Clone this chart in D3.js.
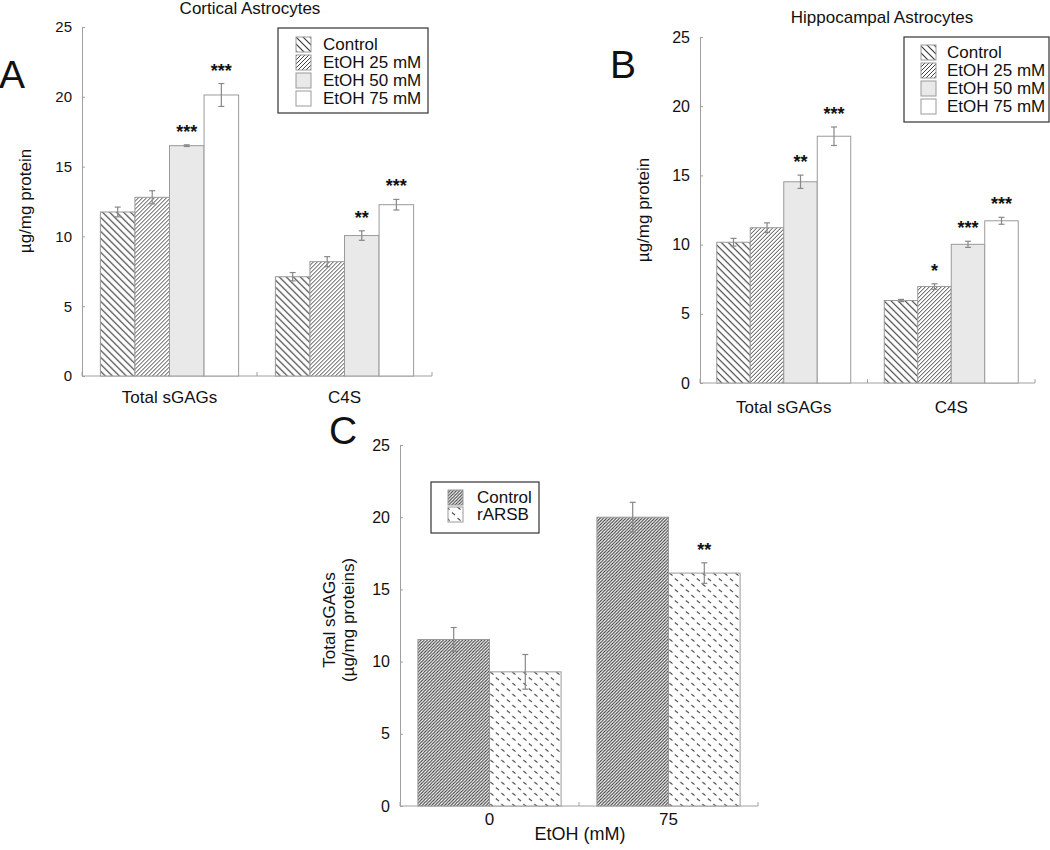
<!DOCTYPE html>
<html><head><meta charset="utf-8">
<script src="https://cdn.jsdelivr.net/npm/d3@7"></script>
<style>
body{margin:0;background:#fff;}
svg{font-family:"Liberation Sans",Arial,sans-serif;}
</style></head>
<body>
<svg id="c" width="1050" height="850"></svg>
<script>
// ---------- DATA ----------
const groupsAB = ["Total sGAGs", "C4S"];
const seriesAB = ["Control", "EtOH 25 mM", "EtOH 50 mM", "EtOH 75 mM"];
const yTicks = [0, 5, 10, 15, 20, 25];

// Panel A: Cortical Astrocytes
const cortMeans = [[11.75, 12.8, 16.5, 20.13], [7.11, 8.19, 10.06, 12.27]];
const cortErrs  = [[0.35, 0.47, 0.06, 0.82], [0.3, 0.36, 0.34, 0.38]];
const cortStars = [["", "", "***", "***"], ["", "", "**", "***"]];

// Panel B: Hippocampal Astrocytes
const hipMeans = [[10.17, 11.22, 14.54, 17.83], [5.96, 6.97, 10.02, 11.72]];
const hipErrs  = [[0.28, 0.35, 0.48, 0.67], [0.08, 0.2, 0.22, 0.25]];
const hipStars = [["", "", "**", "***"], ["", "*", "***", "***"]];

// Panel C
const groupsC = ["0", "75"];
const seriesC = ["Control", "rARSB"];
const cMeans = [[11.53, 9.29], [20.0, 16.13]];
const cErrs  = [[0.83, 1.2], [1.03, 0.71]];
const cStars = [["", ""], ["", "**"]];

// ---------- PATTERNS ----------
const svg = d3.select("#c");
const defs = svg.append("defs");
function hatch(id, size, dir, color, sw) {
  const p = defs.append("pattern").attr("id", id).attr("patternUnits", "userSpaceOnUse")
    .attr("width", size).attr("height", size);
  p.append("rect").attr("width", size).attr("height", size).attr("fill", "#fff");
  const lines = dir > 0
    ? [[0, size, size, 0], [-size/2, size/2, size/2, -size/2], [size/2, size*1.5, size*1.5, size/2]]
    : [[0, 0, size, size], [-size/2, size/2, size/2, size*1.5], [size/2, -size/2, size*1.5, size/2]];
  lines.forEach(l => p.append("line").attr("x1", l[0]).attr("y1", l[1]).attr("x2", l[2]).attr("y2", l[3])
    .attr("stroke", color).attr("stroke-width", sw));
}
hatch("pCtrl", 7, -1, "#333", 1.1);
hatch("p25", 4, 1, "#444", 1.0);
hatch("pC", 3.2, 1, "#3a3a3a", 1.0);
(function(){
  const w = 11, h = 11;
  const p = defs.append("pattern").attr("id", "pArsb").attr("patternUnits", "userSpaceOnUse")
    .attr("width", w).attr("height", h);
  p.append("rect").attr("width", w).attr("height", h).attr("fill", "#fff");
  [[1,6.5],[6.5,1]].forEach(([x,y]) => p.append("path")
      .attr("d", `M${x},${y} l1.3,1.3 l0.4,0 l1.3,1.3`)
      .attr("stroke", "#444").attr("stroke-width", 1.1).attr("fill", "none"));
})();
const fillsAB = ["url(#pCtrl)", "url(#p25)", "#e9e9e9", "#ffffff"];
const fillsC = ["url(#pC)", "url(#pArsb)"];

const axisCol = "#a0a0a0";
const barStroke = "#9a9a9a";
const errCol = "#888";

function panel(cfg) {
  const g = svg.append("g");
  const y = d3.scaleLinear().domain([0, 25]).range([cfg.y0, cfg.y1]);
  const x0 = d3.scaleBand().domain(cfg.groups).range([cfg.xL, cfg.xR])
    .paddingInner(cfg.pad).paddingOuter(cfg.pad / 2);
  const x1 = d3.scaleBand().domain(cfg.series).range([0, x0.bandwidth()]);

  // axes
  const yAx = g.append("g").attr("transform", `translate(${cfg.xL},0)`)
    .call(d3.axisLeft(y).tickValues(yTicks).tickSize(-3).tickPadding(10));
  yAx.select(".domain").attr("stroke", axisCol);
  yAx.selectAll(".tick line").attr("stroke", axisCol);
  yAx.selectAll("text").attr("font-size", cfg.tickFs).attr("fill", "#111");

  const step = x0.step();
  const xt = [cfg.xL, ...cfg.groups.slice(1).map(d => x0(d) - step * cfg.pad / 2), cfg.xR];
  g.append("line").attr("x1", cfg.xL).attr("x2", cfg.xR).attr("y1", cfg.y0).attr("y2", cfg.y0)
    .attr("stroke", axisCol);
  g.selectAll(".xt").data(xt).join("line").attr("x1", d => d).attr("x2", d => d)
    .attr("y1", cfg.y0).attr("y2", cfg.y0 - 4).attr("stroke", axisCol);
  g.selectAll(".xl").data(cfg.groups).join("text")
    .attr("x", d => x0(d) + x0.bandwidth() / 2).attr("y", cfg.y0 + cfg.xlOff)
    .attr("text-anchor", "middle").attr("font-size", cfg.catFs).attr("fill", "#111").text(d => d);

  // bars
  cfg.groups.forEach((grp, gi) => {
    const gg = g.append("g").attr("transform", `translate(${x0(grp)},0)`);
    const rows = cfg.series.map((s, si) => ({s, si, v: cfg.means[gi][si], e: cfg.errs[gi][si], st: cfg.stars[gi][si]}));
    gg.selectAll("rect").data(rows).join("rect")
      .attr("x", d => x1(d.s)).attr("width", x1.bandwidth())
      .attr("y", d => y(d.v)).attr("height", d => y(0) - y(d.v))
      .attr("fill", d => cfg.fills[d.si]).attr("stroke", barStroke).attr("stroke-width", 1);
    const cx = d => x1(d.s) + x1.bandwidth() / 2;
    gg.selectAll(".ev").data(rows).join("line")
      .attr("x1", cx).attr("x2", cx).attr("y1", d => y(d.v - d.e)).attr("y2", d => y(d.v + d.e))
      .attr("stroke", errCol).attr("stroke-width", 1.2);
    ["+", "-"].forEach(sg => {
      gg.selectAll(".ec" + (sg === "+" ? "p" : "m")).data(rows).join("line")
        .attr("x1", d => cx(d) - 3).attr("x2", d => cx(d) + 3)
        .attr("y1", d => y(sg === "+" ? d.v + d.e : d.v - d.e))
        .attr("y2", d => y(sg === "+" ? d.v + d.e : d.v - d.e))
        .attr("stroke", errCol).attr("stroke-width", 1.2);
    });
    gg.selectAll(".st").data(rows.filter(d => d.st)).join("text")
      .attr("x", cx).attr("y", d => y(d.v + d.e) - 7)
      .attr("text-anchor", "middle").attr("font-size", 18).attr("font-weight", "bold")
      .attr("fill", "#111").text(d => d.st);
  });

  // legend
  const lg = g.append("g");
  lg.append("rect").attr("x", cfg.leg.x).attr("y", cfg.leg.y).attr("width", cfg.leg.w).attr("height", cfg.leg.h)
    .attr("fill", "#fff").attr("stroke", "#333").attr("stroke-width", 1.2);
  cfg.series.forEach((s, i) => {
    const ry = cfg.leg.y + cfg.leg.top + i * cfg.leg.dy;
    lg.append("rect").attr("x", cfg.leg.x + cfg.leg.sx).attr("y", ry).attr("width", 15).attr("height", 15)
      .attr("fill", cfg.fills[i]).attr("stroke", barStroke);
    lg.append("text").attr("x", cfg.leg.x + cfg.leg.tx).attr("y", ry + 13)
      .attr("font-size", cfg.legFs).attr("fill", "#111").text(s);
  });
}

panel({groups: groupsAB, series: seriesAB, means: cortMeans, errs: cortErrs, stars: cortStars, fills: fillsAB,
  xL: 82, xR: 432, y0: 376, y1: 27, pad: 0.21, tickFs: 15, catFs: 17, xlOff: 27,
  leg: {x: 278, y: 28, w: 150, h: 85, top: 9, dy: 18, sx: 18, tx: 45}, legFs: 17});
panel({groups: groupsAB, series: seriesAB, means: hipMeans, errs: hipErrs, stars: hipStars, fills: fillsAB,
  xL: 700, xR: 1035, y0: 383, y1: 37, pad: 0.2, tickFs: 16, catFs: 17, xlOff: 30,
  leg: {x: 904, y: 37, w: 145, h: 85, top: 8, dy: 18, sx: 17, tx: 43}, legFs: 17});
panel({groups: groupsC, series: seriesC, means: cMeans, errs: cErrs, stars: cStars, fills: fillsC,
  xL: 400, xR: 758, y0: 806, y1: 445, pad: 0.2, tickFs: 16, catFs: 17, xlOff: 19,
  leg: {x: 431, y: 482, w: 108, h: 51, top: 8, dy: 17, sx: 17, tx: 46}, legFs: 17});

// titles, labels, panel letters
const T = (x, y, s, fs, opts = {}) => svg.append("text").attr("x", x).attr("y", y).attr("font-size", fs)
  .attr("text-anchor", opts.anchor || "middle").attr("fill", "#111")
  .attr("transform", opts.rot ? `rotate(-90,${x},${y})` : null).text(s);
T(250, 14, "Cortical Astrocytes", 17);
T(882, 23, "Hippocampal Astrocytes", 17);
T(-1, 88, "A", 39, {anchor: "start"});
T(610, 78, "B", 39, {anchor: "start"});
T(329, 444, "C", 39, {anchor: "start"});
T(31, 201, "µg/mg protein", 17, {rot: true});
T(649, 210, "µg/mg protein", 17, {rot: true});
T(335, 620, "Total sGAGs", 17, {rot: true});
T(354, 620, "(µg/mg proteins)", 17, {rot: true});
T(580, 840, "EtOH (mM)", 18);
</script>
</body></html>
